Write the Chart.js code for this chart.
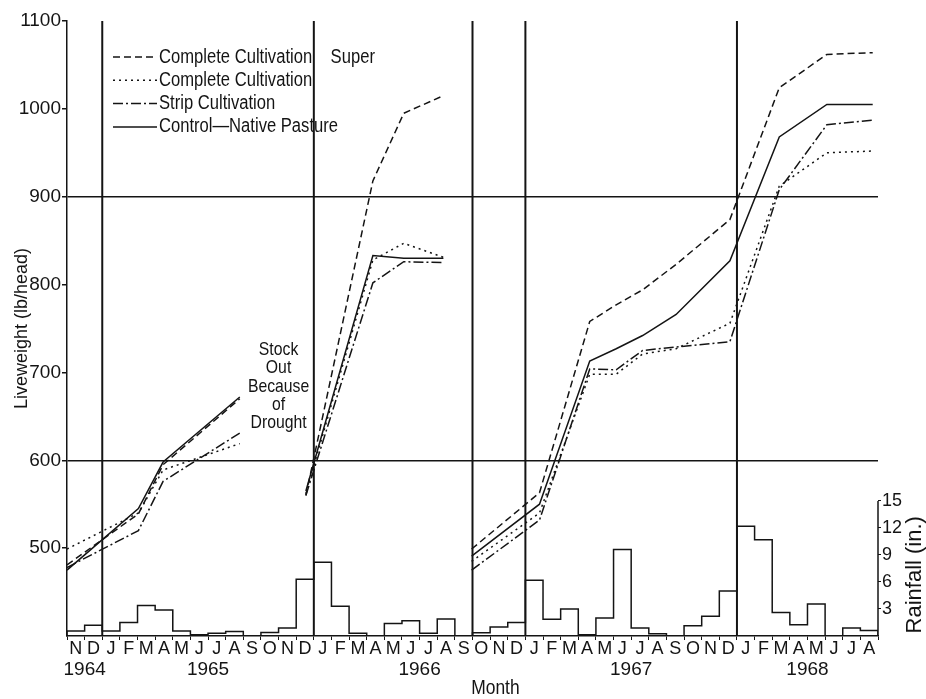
<!DOCTYPE html>
<html>
<head>
<meta charset="utf-8">
<title>Liveweight and rainfall 1964-1968</title>
<script src="https://cdn.jsdelivr.net/npm/chart.js@4.4.1/dist/chart.umd.min.js"></script>
<style>
  html, body { margin: 0; padding: 0; background: #fff; }
  #wrap { width: 926px; height: 699px; }
</style>
</head>
<body>
<div id="wrap"><canvas id="chart"></canvas></div>
<script>
// months along the bottom, Nov 1964 .. Aug 1968
var months = ['N', 'D',
  'J', 'F', 'M', 'A', 'M', 'J', 'J', 'A', 'S', 'O', 'N', 'D',
  'J', 'F', 'M', 'A', 'M', 'J', 'J', 'A', 'S', 'O', 'N', 'D',
  'J', 'F', 'M', 'A', 'M', 'J', 'J', 'A', 'S', 'O', 'N', 'D',
  'J', 'F', 'M', 'A', 'M', 'J', 'J', 'A'];
var years = ['1964', '1965', '1966', '1967', '1968'];
var yearFirstMonth = [0, 2, 14, 26, 38];

// monthly rainfall (in.)
var rainfall = [0.55, 1.2,
  0.55, 1.5, 3.4, 2.9, 0.55, 0.15, 0.3, 0.5, 0, 0.4, 0.9, 6.3,
  8.2, 3.3, 0.3, 0, 1.4, 1.7, 0.3, 1.9, 0, 0.35, 1.0, 1.5,
  6.2, 1.85, 3.0, 0.15, 2.0, 9.6, 0.9, 0.25, 0, 1.15, 2.2, 5.0,
  12.2, 10.7, 2.6, 1.25, 3.55, 0, 0.9, 0.6];
var rainTicks = [3, 6, 9, 12, 15];

// grazing periods start with these months (vertical rules)
var periodStarts = [2, 14, 23, 26, 38];

// weighing dates, in months counted from 1 Nov 1964, one list per period
var weighDates = [
  [0, 4.05, 5.45, 9.8],
  [13.55, 17.35, 19.1, 21.35],
  [22.95, 26.8, 29.65, 31.15, 32.65, 34.55, 37.6, 40.4, 43.1, 45.7]
];
// liveweight (lb/head) at each weighing
var ccSuper = [[481, 539, 595, 670], [560, 918, 995, 1015],
  [499, 563, 758, 777, 794, 823, 874, 1024, 1062, 1064]];
var ccOnly = [[499, 540, 589, 619], [562, 828, 847, 831],
  [485, 540, 698, 698, 721, 727, 756, 912, 950, 952]];
var strip = [[478, 520, 576, 631], [560, 802, 826, 825],
  [475, 532, 704, 703, 725, 729, 735, 908, 982, 987]];
var control = [[475, 545, 598, 672], [565, 833, 830, 830],
  [491, 550, 713, 727, 742, 766, 827, 968, 1005, 1005]];

var FONT = "'Liberation Sans Narrow', 'Liberation Sans', Arial, sans-serif";
var INK = '#141414';
var NARROW = 0.83; // the printed lettering is condensed

function seriesPoints(periods) {
  var pts = [];
  periods.forEach(function (vals, p) {
    if (p > 0) pts.push({ x: weighDates[p][0], y: null });
    vals.forEach(function (v, i) { pts.push({ x: weighDates[p][i], y: v }); });
  });
  return pts;
}

// histogram outline: each month value holds until the end of that month
var rainPoints = [{ x: 0, y: 0 }];
rainfall.forEach(function (r, i) { rainPoints.push({ x: i + 1, y: r }); });
rainPoints.push({ x: rainfall.length, y: 0 });

var yearCenters = yearFirstMonth.map(function (first, k) {
  var next = k + 1 < yearFirstMonth.length ? yearFirstMonth[k + 1] : months.length;
  return (first + next) / 2;
});

function lineSet(label, periods, dash) {
  return {
    type: 'line', label: label, data: seriesPoints(periods),
    xAxisID: 'xs', yAxisID: 'y',
    borderColor: INK, borderWidth: 1.5, borderDash: dash,
    pointRadius: 0, tension: 0, fill: false, spanGaps: false
  };
}

function narrowText(ctx, text, x, y, sx) {
  ctx.save();
  ctx.translate(x, y);
  ctx.scale(sx, 1);
  ctx.fillText(text, 0, 0);
  ctx.restore();
}

var decor = {
  id: 'decor',
  beforeDatasetsDraw: function (chart) {
    var ctx = chart.ctx, a = chart.chartArea, xs = chart.scales.xs, y2 = chart.scales.y2;
    ctx.save();
    ctx.strokeStyle = INK;
    ctx.lineWidth = 2;
    periodStarts.forEach(function (m) {
      var x = xs.getPixelForValue(m);
      ctx.beginPath(); ctx.moveTo(x, a.top); ctx.lineTo(x, a.bottom); ctx.stroke();
    });
    // the rainfall axis only runs over its own range
    ctx.lineWidth = 1.5;
    ctx.beginPath();
    ctx.moveTo(a.right, y2.getPixelForValue(0));
    ctx.lineTo(a.right, y2.getPixelForValue(rainTicks[rainTicks.length - 1]));
    ctx.stroke();
    ctx.restore();
  },
  afterDraw: function (chart) {
    var ctx = chart.ctx, a = chart.chartArea, xs = chart.scales.xs, y = chart.scales.y, y2 = chart.scales.y2;
    ctx.save();
    ctx.fillStyle = INK;
    ctx.strokeStyle = INK;

    // legend
    var lx = a.left + 46, ly = a.top + 36, row = 23.3;
    ctx.font = '20px ' + FONT;
    ctx.textBaseline = 'middle';
    ctx.textAlign = 'left';
    chart.data.datasets.forEach(function (ds, i) {
      if (ds.yAxisID !== 'y') return;
      var yy = ly + i * row;
      ctx.lineWidth = 1.5;
      ctx.setLineDash(ds.borderDash || []);
      ctx.beginPath(); ctx.moveTo(lx, yy); ctx.lineTo(lx + 44, yy); ctx.stroke();
      ctx.setLineDash([]);
      narrowText(ctx, ds.label, lx + 46, yy, NARROW);
    });

    // note at the end of the first period
    var note = ['Stock', 'Out', 'Because', 'of', 'Drought'];
    ctx.font = '19px ' + FONT;
    ctx.textAlign = 'center';
    var nx = xs.getPixelForValue(12), ny = y.getPixelForValue(726);
    note.forEach(function (t, i) { narrowText(ctx, t, nx, ny + i * 18.4, NARROW); });

    // x title
    ctx.font = '21px ' + FONT;
    narrowText(ctx, 'Month', xs.getPixelForValue(24.3), chart.height - 11, NARROW);

    // rainfall title, reading upwards
    ctx.font = '22px ' + FONT;
    ctx.translate(chart.width - 11, y2.getPixelForValue(6.8));
    ctx.rotate(-Math.PI / 2);
    narrowText(ctx, 'Rainfall (in.)', 0, 0, 1);
    ctx.restore();
  }
};

Chart.defaults.font.family = FONT;
Chart.defaults.color = INK;

new Chart(document.getElementById('chart'), {
  type: 'line',
  data: {
    datasets: [
      lineSet('Complete Cultivation    Super', ccSuper, [7, 4]),
      lineSet('Complete Cultivation', ccOnly, [2, 4]),
      lineSet('Strip Cultivation', strip, [10, 3, 2, 3]),
      lineSet('Control\u2014Native Pasture', control, []),
      {
        type: 'line', label: 'Rainfall', data: rainPoints,
        xAxisID: 'xs', yAxisID: 'y2', stepped: 'after',
        borderColor: INK, borderWidth: 1.5, pointRadius: 0, fill: false
      }
    ]
  },
  options: {
    responsive: true,
    maintainAspectRatio: false,
    animation: false,
    layout: { padding: { top: 21, left: 0, right: 0, bottom: 0 } },
    plugins: { legend: { display: false }, tooltip: { enabled: false } },
    scales: {
      x: {
        type: 'category', labels: months, offset: true, position: 'bottom', weight: 0,
        afterFit: function (s) { s.height = 24; },
        grid: { drawOnChartArea: false, offset: true, tickLength: 4, color: INK },
        border: { display: true, color: INK, width: 1.5 },
        ticks: { autoSkip: false, maxRotation: 0, minRotation: 0, padding: 0,
          font: { size: 18, lineHeight: 1 } }
      },
      years: {
        type: 'linear', min: 0, max: months.length, position: 'bottom', weight: 1,
        afterFit: function (s) { s.height = 39; },
        afterBuildTicks: function (s) { s.ticks = yearCenters.map(function (v) { return { value: v }; }); },
        grid: { display: false, drawTicks: false },
        border: { display: false },
        ticks: { autoSkip: false, maxRotation: 0, padding: 0, font: { size: 19, lineHeight: 1 },
          callback: function (v, i) { return years[i]; } }
      },
      xs: { type: 'linear', min: 0, max: months.length, display: false },
      y: {
        position: 'left', min: 400, max: 1100,
        afterFit: function (s) { s.width = 67; },
        ticks: { stepSize: 100, padding: 1, font: { size: 19 },
          callback: function (v) { return v === 400 ? '' : v; } },
        grid: {
          lineWidth: 1.5, tickLength: 5,
          color: function (c) { return c.tick && (c.tick.value === 600 || c.tick.value === 900) ? INK : 'rgba(0,0,0,0)'; },
          tickColor: function (c) { return c.tick && c.tick.value === 400 ? 'rgba(0,0,0,0)' : INK; }
        },
        border: { display: true, color: INK, width: 1.5 },
        title: { display: true, text: 'Liveweight (lb/head)', font: { size: 18 }, padding: { top: 11, bottom: 0 } }
      },
      y2: {
        position: 'right', min: 0, max: 68.3,
        afterFit: function (s) { s.width = 48; },
        afterBuildTicks: function (s) { s.ticks = rainTicks.map(function (v) { return { value: v }; }); },
        grid: { drawOnChartArea: false, tickLength: 3, color: INK },
        border: { display: false },
        ticks: { padding: 1, font: { size: 18 } }
      }
    }
  },
  plugins: [decor]
});
</script>
</body>
</html>
